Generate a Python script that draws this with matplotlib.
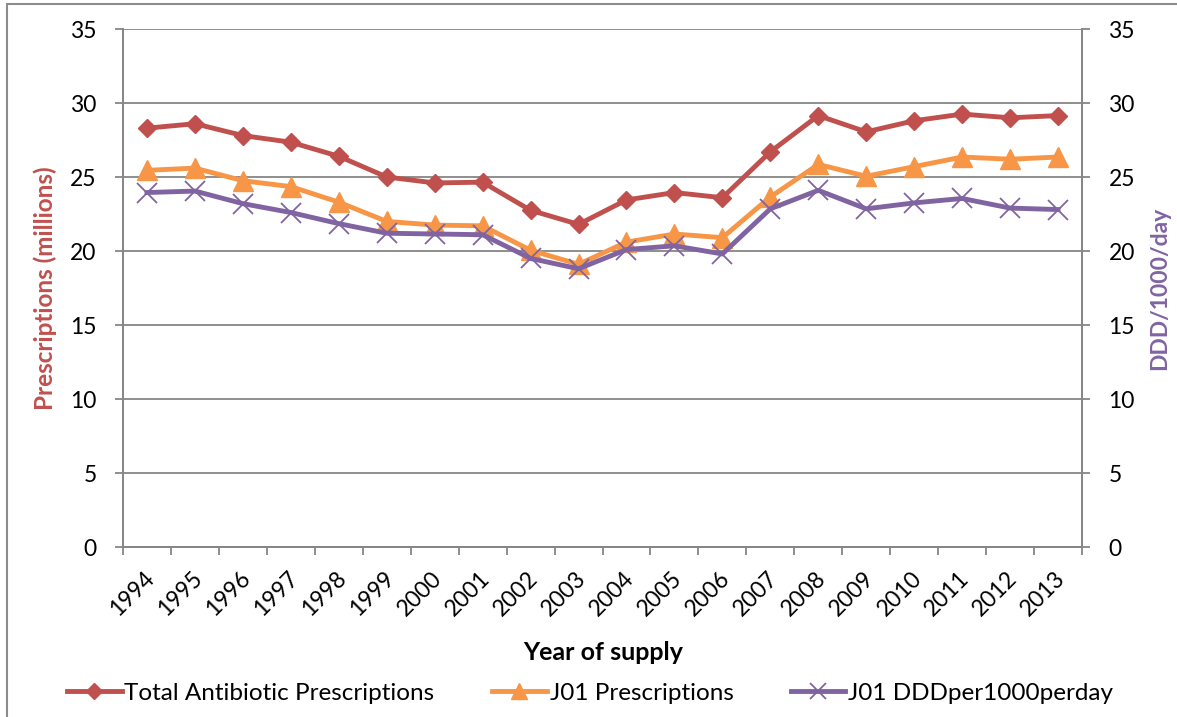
import matplotlib
matplotlib.use("Agg")
import matplotlib.pyplot as plt
from matplotlib.patches import Rectangle
from matplotlib.lines import Line2D
from matplotlib.transforms import ScaledTranslation

plt.rcParams['font.family'] = ['Lato', 'DejaVu Sans']

# ---------------- Data ----------------
years = [str(y) for y in range(1994, 2014)]
total_rx = [28.3, 28.6, 27.8, 27.35, 26.4, 25.0, 24.6, 24.65, 22.75, 21.8,
            23.45, 23.95, 23.6, 26.7, 29.15, 28.05, 28.8, 29.25, 29.0, 29.15]
j01_rx = [25.45, 25.6, 24.75, 24.35, 23.3, 22.0, 21.75, 21.7, 20.05, 19.1,
          20.6, 21.15, 20.9, 23.65, 25.85, 25.05, 25.7, 26.35, 26.2, 26.35]
j01_ddd = [23.95, 24.05, 23.2, 22.6, 21.85, 21.2, 21.15, 21.1, 19.5, 18.8,
           20.1, 20.35, 19.8, 22.85, 24.1, 22.85, 23.25, 23.55, 22.9, 22.8]
y_ticks = [0, 5, 10, 15, 20, 25, 30, 35]

RED = '#C0504D'
ORANGE = '#F79646'
PURPLE = '#8064A2'
GRID = '#868686'
FS = 16.5

W, H = 1177, 717
fig = plt.figure(figsize=(W / 100, H / 100), dpi=100)
ax = fig.add_axes([123 / W, 1 - 547 / H, (1082 - 123) / W, (547 - 29) / H])
ax2 = ax.twinx()

x = list(range(len(years)))

# ---------------- Series ----------------
l1, = ax.plot(x, total_rx, color=RED, lw=3.5, marker='D', ms=9.5,
              label='Total Antibiotic Prescriptions', zorder=3)
l2, = ax.plot(x, j01_rx, color=ORANGE, lw=3.5, marker='^', ms=14,
              label='J01 Prescriptions', zorder=3)
l3, = ax2.plot(x, j01_ddd, color=PURPLE, lw=3.5, marker='x', ms=14, mew=1.3,
               label='J01 DDDper1000perday', zorder=3)

# ---------------- Axes ----------------
for a in (ax, ax2):
    a.set_ylim(0, 35)
    a.set_yticks(y_ticks)
    a.set_xlim(-0.5, len(years) - 0.5)
    for side in ('left', 'right', 'bottom'):
        a.spines[side].set_color(GRID)
        a.spines[side].set_linewidth(1.3)
    a.spines['top'].set_visible(False)
    a.tick_params(axis='y', length=6, width=1.3, color=GRID, labelsize=FS, pad=13)

ax.yaxis.grid(True, color=GRID, lw=1.3, zorder=0)
ax.set_axisbelow(True)

# tick marks between categories, labels at the centres
ax.set_xticks([i - 0.5 for i in range(len(years) + 1)])
ax.set_xticklabels([])
ax.set_xticks(x, minor=True)
ax.set_xticklabels(years, minor=True, rotation=45, ha='right', va='center',
                   rotation_mode='anchor', fontsize=FS)
ax.tick_params(axis='x', which='major', length=6, width=1.3, color=GRID)
ax.tick_params(axis='x', which='minor', length=0, pad=20)
shift = ScaledTranslation(4 / 100, 0, fig.dpi_scale_trans)
for lab in ax.get_xticklabels(minor=True):
    lab.set_transform(lab.get_transform() + shift)

ax.set_ylabel('Prescriptions (millions)', color=RED, fontsize=17.5, fontweight='bold')
ax.yaxis.set_label_coords(-66 / 959, 0.5)
ax2.set_ylabel('DDD/1000/day', color=PURPLE, fontsize=FS, fontweight='bold')
ax2.yaxis.set_label_coords(1 + 67 / 959, 0.5)

fig.text(603 / W, 1 - 653 / H, 'Year of supply', ha='center', va='center',
         fontsize=18, fontweight='bold')

# ---------------- Legend ----------------
handles = [
    Line2D([], [], color=RED, lw=3.5, marker='D', ms=8),
    Line2D([], [], color=ORANGE, lw=3.5, marker='^', ms=11),
    Line2D([], [], color=PURPLE, lw=3.5, marker='x', ms=11, mew=1.3),
]
labels = [l1.get_label(), l2.get_label(), l3.get_label()]
fig.legend(handles, labels, loc='center', bbox_to_anchor=(590 / W, 1 - 693 / H),
           ncol=3, frameon=False, fontsize=17.5, handlelength=2.26,
           handletextpad=0.12, columnspacing=2.35)

# chart border
fig.add_artist(Rectangle((7 / W, -0.05), 1.2, 1.05 - 4 / H, transform=fig.transFigure,
                         fill=False, ec='#8c8c8c', lw=1.5))

fig.savefig('out.png', dpi=100)
